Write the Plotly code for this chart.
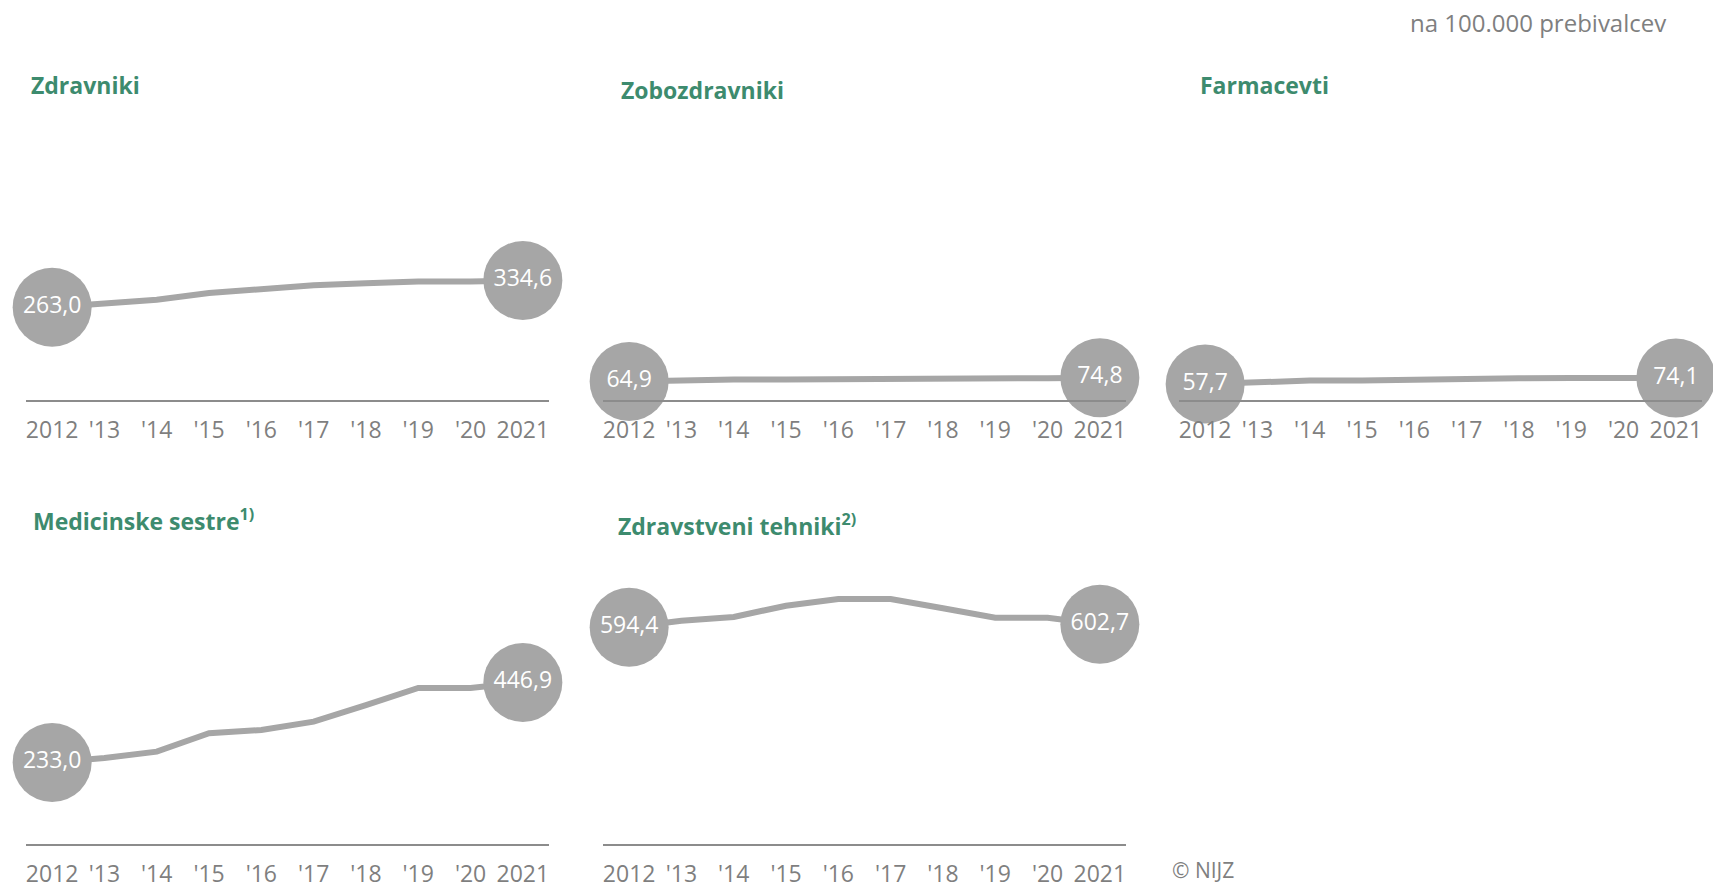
import plotly.graph_objects as go

years = [2012, 2013, 2014, 2015, 2016, 2017, 2018, 2019, 2020, 2021]
tick_labels = ["2012", "'13", "'14", "'15", "'16", "'17", "'18", "'19", "'20", "2021"]

titles = ["Zdravniki", "Zobozdravniki", "Farmacevti",
          "Medicinske sestre<sup>1)</sup>", "Zdravstveni tehniki<sup>2)</sup>"]

zdravniki = [263.0, 274, 283, 301, 312, 322, 327, 332, 332, 334.6]
zobozdravniki = [64.9, 68, 70, 70, 70, 72.5, 73, 73, 73.5, 74.8]
farmacevti = [57.7, 63.5, 67, 67.5, 70.5, 71, 73.5, 74, 74, 74.1]
med_sestre = [233.0, 245, 262, 311, 320, 342, 386, 432, 432, 446.9]
zdr_tehniki = [594.4, 612, 622, 652, 670, 670, 645, 620, 620, 602.7]

series = [zdravniki, zobozdravniki, farmacevti, med_sestre, zdr_tehniki]

W, H = 1713, 889
GRAY = "#a6a6a6"
GREEN = "#3d8b6e"
TXT = "#7f7f7f"
FONT = "Open Sans"

# panel geometry (pixels)
x_doms = [(26, 549), (603, 1126), (1179, 1702)]
row_bottom = [403, 850]
plot_h = 256
scale = 0.3767
y_min = 14.4
y_max = y_min + plot_h / scale

fig = go.Figure()

def fmt(v):
    return f"{v:.1f}".replace(".", ",")

for i, vals in enumerate(series):
    r, c = divmod(i, 3)
    n = i + 1
    xa = "x" if n == 1 else f"x{n}"
    ya = "y" if n == 1 else f"y{n}"
    x0, x1 = x_doms[c]
    yb = row_bottom[r]
    yt = yb - plot_h
    fig.add_trace(go.Scatter(
        x=years, y=vals, mode="lines",
        line=dict(color=GRAY, width=6), xaxis=xa, yaxis=ya,
        hoverinfo="skip", showlegend=False, cliponaxis=False))
    fig.add_trace(go.Scatter(
        x=[years[0], years[-1]], y=[vals[0], vals[-1]], mode="markers+text",
        marker=dict(color=GRAY, size=79, line=dict(width=0)),
        text=[fmt(vals[0]), fmt(vals[-1])], textposition="middle center",
        textfont=dict(color="white", size=23, family=FONT),
        xaxis=xa, yaxis=ya, hoverinfo="skip", showlegend=False, cliponaxis=False))
    fig.layout[("xaxis" if n == 1 else f"xaxis{n}")] = dict(
        domain=[x0 / W, x1 / W], range=[2011.5, 2021.5],
        tickmode="array", tickvals=years, ticktext=tick_labels,
        showgrid=False, zeroline=False, showline=True, linecolor="#8c8c8c", linewidth=2,
        ticks="outside", ticklen=8, tickcolor="rgba(0,0,0,0)",
        tickfont=dict(size=23, color=TXT, family=FONT), anchor=ya, fixedrange=True)
    fig.layout[("yaxis" if n == 1 else f"yaxis{n}")] = dict(
        domain=[1 - yb / H, 1 - yt / H], range=[y_min, y_max],
        visible=False, anchor=xa, fixedrange=True)

title_pos = [(29, 86), (619, 91), (1198, 86), (31, 524), (616, 529)]
for t, (px, py) in zip(titles, title_pos):
    fig.add_annotation(text=f"<b>{t}</b>", x=px / W, y=1 - py / H, xref="paper", yref="paper",
                       xanchor="left", yanchor="middle", showarrow=False,
                       font=dict(size=23, color=GREEN, family=FONT))

fig.add_annotation(text="na 100.000 prebivalcev", x=1668 / W, y=1 - 23 / H, xref="paper", yref="paper",
                   xanchor="right", yanchor="middle", showarrow=False,
                   font=dict(size=24, color=TXT, family=FONT))
fig.add_annotation(text="© NIJZ", x=1170 / W, y=1 - 876 / H, xref="paper", yref="paper",
                   xanchor="left", yanchor="middle", showarrow=False,
                   font=dict(size=21, color=TXT, family=FONT))

fig.update_layout(width=W, height=H, margin=dict(l=0, r=0, t=0, b=0),
                  paper_bgcolor="white", plot_bgcolor="white", hovermode=False)

fig.write_html("out.html", config={"displayModeBar": False},
               post_script="document.body.style.margin='0';document.body.style.overflow='hidden';")
